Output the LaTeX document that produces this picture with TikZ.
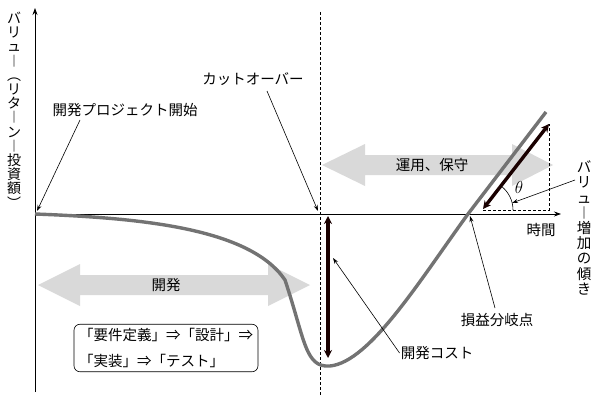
\documentclass[tikz,border=0pt]{standalone}
\usepackage{fontspec}
\setmainfont{Noto Sans CJK JP}
\usetikzlibrary{arrows.meta,shapes.arrows}
\begin{document}
\begin{tikzpicture}[x=1pt,y=-1pt,
  lbl/.style={font=\fontsize{14.5}{16}\selectfont, inner sep=1pt},
  thin/.style={-{Stealth[length=6pt,width=4pt]}, line width=0.6pt},
  bigarrow/.style={fill=black!15, draw=none},
  dbl/.style={{Stealth[length=8pt,width=8pt]}-{Stealth[length=8pt,width=8pt]}, line width=3.4pt, draw=black!90!red}]
\useasboundingbox (0,0) rectangle (600,404);
% gray block arrows
\fill[bigarrow] (38,285) -- (80,264) -- (80,275) -- (268,275) -- (268,264) -- (310,285) -- (268,306) -- (268,295) -- (80,295) -- (80,306) -- cycle;
\fill[bigarrow] (322,165) -- (365,144) -- (365,155) -- (512,155) -- (512,144) -- (553,165) -- (512,186) -- (512,175) -- (365,175) -- (365,186) -- cycle;
\node[lbl] (dev) at (166,285) {開発};
\node[lbl] (ops) at (432,165) {運用、保守};
% axes
\coordinate (O) at (35,214);
\coordinate (ytop) at (35,8);
\coordinate (xend) at (561,214);
\draw[-{Stealth[length=7pt,width=5pt]}, line width=0.7pt] (35,392) -- (ytop);
\draw[-{Stealth[length=7pt,width=5pt]}, line width=0.7pt] (O) -- (xend);
\draw[densely dashed, line width=0.6pt] (320,12) -- (320,396);
% curve
\draw[line width=3.4pt, black!55] (35,214) .. controls (140,218) and (250,228) .. (285,280)
  .. controls (305,340) and (305,368) .. (330,366)
  .. controls (370,362) and (420,280) .. (468,214) -- (546,112);
\coordinate (be) at (470,216);
% dev cost
\coordinate (dc1) at (328,216); \coordinate (dc2) at (328,358);
\draw[dbl] (dc1) -- (dc2);
% slope
\coordinate (s1) at (483,209); \coordinate (s2) at (549,124);
\draw[densely dashed, line width=0.6pt] (483,210) -- (549,210) -- (549,124);
\draw[dbl] (s1) -- (s2);
\draw[line width=0.6pt] (513,210) arc[start angle=0, end angle=-52, radius=30];
\node[font=\fontsize{17}{17}\selectfont] (th) at (519,187) {$\theta$};
% labels
\node[lbl] (start) at (125,110) {開発プロジェクト開始};
\draw[thin] (80,120) -- (37,211);
\node[lbl] (co) at (253,79) {カットオーバー};
\draw[thin] (267,91) -- (318,211);
\node[lbl] (bep) at (497,320) {損益分岐点};
\draw[thin] (495,308) -- (be);
\node[lbl] (cost) at (437,353) {開発コスト};
\draw[thin] (cost.west) -- (333,258);
\node[lbl] (time) at (541,230) {時間};
\node[lbl, align=center, font=\fontsize{14.5}{15.2}\selectfont] (slope) at (584,228) {バ\\リ\\ュ\\︱\\増\\加\\の\\傾\\き};
\draw[thin] (575,180) -- (512,203);
\node[lbl, align=center, font=\fontsize{14}{14.2}\selectfont] (ylab) at (14,110) {バ\\リ\\ュ\\︱\\︵\\リ\\タ\\︱\\ン\\︱\\投\\資\\額\\︶};
\node[draw, rounded corners=6pt, line width=0.6pt, align=left, lbl, inner xsep=5pt, inner ysep=4pt, fill=white, font=\fontsize{14.5}{26}\selectfont] (box) at (166,348) {「要件定義」⇒「設計」⇒\\「実装」⇒「テスト」};
\end{tikzpicture}
\end{document}
